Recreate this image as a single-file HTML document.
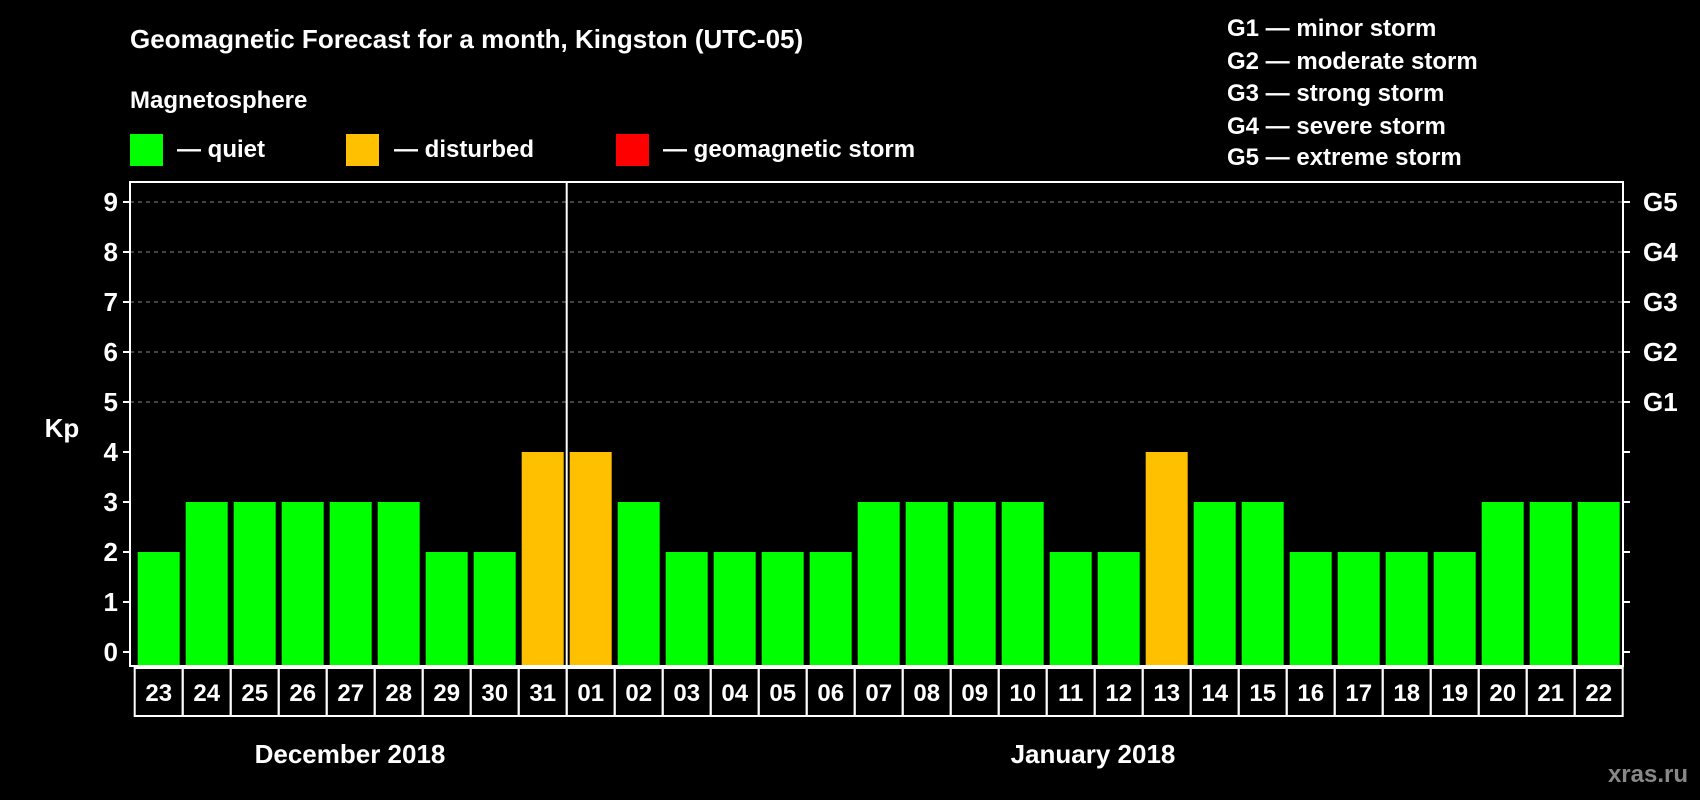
<!DOCTYPE html>
<html><head><meta charset="utf-8"><style>
html,body{margin:0;padding:0;background:#000;}
svg{display:block;font-family:"Liberation Sans",Arial,sans-serif;font-weight:bold;}
</style></head><body>
<svg id="chart" width="1700" height="800" viewBox="0 0 1700 800" xmlns="http://www.w3.org/2000/svg">
<rect width="1700" height="800" fill="#000"/>
<text x="130" y="48" fill="#fff" font-size="26">Geomagnetic Forecast for a month, Kingston (UTC-05)</text>
<text x="130" y="108" fill="#fff" font-size="24">Magnetosphere</text>
<g><rect x="130" y="134" width="33" height="32" fill="#00ff00"/><text x="177" y="157" fill="#fff" font-size="24">— quiet</text></g>
<g><rect x="346" y="134" width="33" height="32" fill="#ffc000"/><text x="394" y="157" fill="#fff" font-size="24">— disturbed</text></g>
<g><rect x="616" y="134" width="33" height="32" fill="#ff0000"/><text x="663" y="157" fill="#fff" font-size="24">— geomagnetic storm</text></g>
<g fill="#fff" font-size="24">
<text x="1227" y="36">G1 — minor storm</text>
<text x="1227" y="69">G2 — moderate storm</text>
<text x="1227" y="101">G3 — strong storm</text>
<text x="1227" y="134">G4 — severe storm</text>
<text x="1227" y="165">G5 — extreme storm</text>
</g>
<text x="62" y="437" fill="#fff" font-size="26" text-anchor="middle">Kp</text>
<text x="350" y="763" fill="#fff" font-size="26" text-anchor="middle">December 2018</text>
<text x="1093" y="763" fill="#fff" font-size="26" text-anchor="middle">January 2018</text>
<text x="1688" y="782" fill="#888" font-size="24" text-anchor="end">xras.ru</text>
<g id="plot"></g>
</svg>
<script>
const days = ["23","24","25","26","27","28","29","30","31","01","02","03","04","05","06","07","08","09","10","11","12","13","14","15","16","17","18","19","20","21","22"];
const kpValues = [2,3,3,3,3,3,2,2,4,4,3,2,2,2,2,3,3,3,3,2,2,4,3,3,2,2,2,2,3,3,3];
const yTicks = [0,1,2,3,4,5,6,7,8,9];
const gLabels = ["G1","G2","G3","G4","G5"];
const monthBreakIndex = 9;

const NS="http://www.w3.org/2000/svg";
const g=document.getElementById('plot');
const L=130,R=1623,T=182,B=666,Y0=652,Y9=202,barStart=137.7,pitch=48,bw=42;
const y=v=>Y0-(v/9)*(Y0-Y9);
const x=i=>barStart+i*pitch;
function mk(t,a){const e=document.createElementNS(NS,t);for(const k in a)e.setAttribute(k,a[k]);g.appendChild(e);return e;}
yTicks.forEach(v=>{
  if(v>=5){const ln=mk('line',{x1:L,x2:R,y1:y(v),y2:y(v),stroke:'#888','stroke-dasharray':'4,4','stroke-width':1});
  
  }
  mk('line',{x1:L-7,x2:L,y1:y(v),y2:y(v),stroke:'#fff','stroke-width':2});
  mk('line',{x1:R,x2:R+7,y1:y(v),y2:y(v),stroke:'#fff','stroke-width':2});
  const t=mk('text',{x:118,y:y(v)+9,fill:'#fff','font-size':26,'text-anchor':'end'});
  t.textContent=v;
  
  
});
gLabels.forEach((s,i)=>{
  const t=mk('text',{x:1643,y:y(5+i)+9,fill:'#fff','font-size':26});
  t.textContent=s;
  
  
});
kpValues.forEach((v,i)=>{
  const c=v>=5?'#ff0000':(v>=4?'#ffc000':'#00ff00');
  const r=mk('rect',{x:x(i),y:y(v),width:bw,height:B-y(v)-1,fill:c});
  
  
  const bx=mk('rect',{x:x(i)-3,y:668,width:pitch,height:48,fill:'none',stroke:'#fff','stroke-width':2});
  
  
  const t=mk('text',{x:x(i)+bw/2,y:701,fill:'#fff','font-size':24,'text-anchor':'middle'});
  t.textContent=days[i];
  
  
});
const sx=x(monthBreakIndex)-3;
const sep=mk('line',{x1:sx,x2:sx,y1:T,y2:B,stroke:'#fff','stroke-width':2});


const fr=mk('rect',{x:L,y:T,width:R-L,height:B-T,fill:'none',stroke:'#fff','stroke-width':2});


</script>
</body></html>
